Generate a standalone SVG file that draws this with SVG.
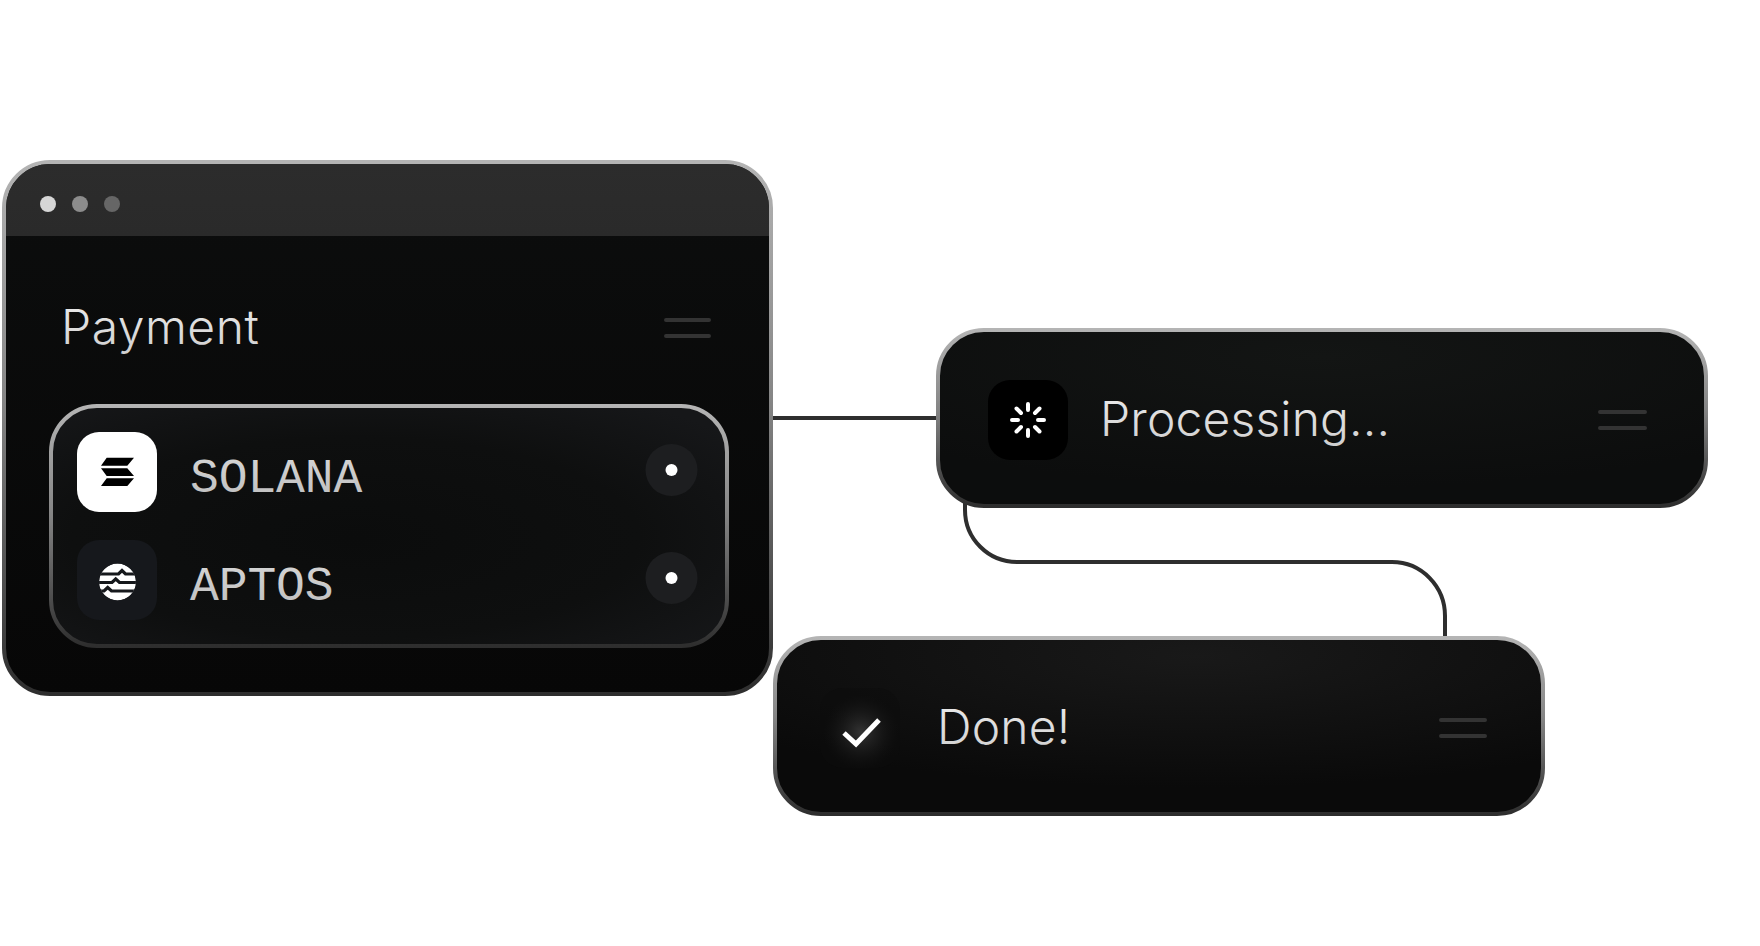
<svg xmlns="http://www.w3.org/2000/svg" width="1760" height="946" viewBox="0 0 1760 946">
<style>
.t{font-family:"Inter","Liberation Sans",sans-serif;font-size:48px;font-weight:350;letter-spacing:.15px;fill:url(#txt)}
.m{font-family:"Liberation Mono",monospace;font-size:48px;font-weight:400;letter-spacing:-.1px;fill:url(#txt);fill-opacity:.9}
.c{fill:none;stroke:#2e2e2e;stroke-width:4}
.b{stroke:url(#edge);stroke-width:4}
.h{stroke:#333;stroke-width:4;stroke-linecap:round}
.s{stroke:#fff;stroke-width:4;stroke-linecap:round}
</style>
<defs>
<linearGradient id="edge" x1="0" y1="0" x2="0" y2="1"><stop offset="0" stop-color="#b4b4b4"/><stop offset=".45" stop-color="#858585"/><stop offset="1" stop-color="#2e2e2e"/></linearGradient>
<linearGradient id="txt" x1="0" y1="0" x2="0" y2="1"><stop offset="0" stop-color="#ececec"/><stop offset="1" stop-color="#cfcfcf"/></linearGradient>
<linearGradient id="head" x1="0" y1="0" x2="0" y2="1"><stop offset="0" stop-color="#2c2c2c"/><stop offset="1" stop-color="#2a2a2a"/></linearGradient>
<linearGradient id="body" x1="0" y1="0" x2="0" y2="1"><stop offset="0" stop-color="#0c0d0d"/><stop offset="1" stop-color="#070707"/></linearGradient>
<radialGradient id="row" cx=".45" cy=".55" r=".7"><stop offset="0" stop-color="#0b0c0c"/><stop offset=".6" stop-color="#0e0f0f"/><stop offset="1" stop-color="#161719"/></radialGradient>
<radialGradient id="pill1" cx=".5" cy=".15" r=".75"><stop offset="0" stop-color="#131514"/><stop offset="1" stop-color="#0c0d0d"/></radialGradient>
<radialGradient id="pill2" cx=".55" cy=".1" r=".75"><stop offset="0" stop-color="#191919"/><stop offset="1" stop-color="#0a0a0a"/></radialGradient>
<radialGradient id="glow"><stop offset="0" stop-color="#343434"/><stop offset="1" stop-color="#141414" stop-opacity="0"/></radialGradient>
<clipPath id="cardClip"><rect x="6" y="164" width="763" height="528" rx="44"/></clipPath>
<clipPath id="apt"><circle cx="117.500" cy="582" r="18.500"/></clipPath>
</defs>
<rect width="1760" height="946" fill="#fff"/>
<g id="connectors">
<path class="c" d="M773 418H940"/>
<path class="c" d="M965 500V510A52 52 0 0 0 1017 562H1392A53 54 0 0 1 1445 616V640"/>
</g>
<g id="payment">
<rect class="b" x="4" y="162" width="767" height="532" rx="46" fill="url(#body)"/>
<rect x="6" y="164" width="763" height="72" fill="url(#head)" clip-path="url(#cardClip)"/>
<circle cx="48" cy="204" r="8" fill="#d6d6d6"/><circle cx="80" cy="204" r="8" fill="#8c8c8c"/><circle cx="112" cy="204" r="8" fill="#666"/>
<text class="t" x="61" y="344" style="letter-spacing:.5px">Payment</text>
<path class="h" d="M666 320H709M666 336H709"/>
</g>
<g id="options">
<rect class="b" x="51" y="406" width="676" height="240" rx="46" fill="url(#row)"/>
</g>
<g id="solana">
<rect x="77" y="432" width="80" height="80" rx="22" fill="#fff"/>
<path fill="#000" d="M106.700 457.700H134L127.300 465.700H101ZM101 468.300H127.300L134 476H106.700ZM106.700 478.300H134L127.300 486H101Z"/>
<text class="m" x="190" y="492">SOLANA</text>
<circle cx="671.500" cy="470" r="26" fill="#1d1e20"/><circle cx="671.500" cy="470" r="6" fill="#fff"/>
</g>
<g id="aptos">
<rect x="77" y="540" width="80" height="80" rx="22" fill="#16181c"/>
<g clip-path="url(#apt)"><circle cx="117.500" cy="582" r="18.500" fill="#fff"/>
<path fill="none" stroke="#16181c" stroke-width="3.200" d="M96 574H118.500L122 570.500L125.500 574H140M96 582.500H112L115.700 579L119.500 582.500H140M96 591H104L107.700 587.500L111.500 591H140"/></g>
<text class="m" x="190" y="600">APTOS</text>
<circle cx="671.500" cy="578" r="26" fill="#1d1e20"/><circle cx="671.500" cy="578" r="6" fill="#fff"/>
</g>
<g id="processing">
<rect class="b" x="938" y="330" width="768" height="176" rx="46" fill="url(#pill1)"/>
<rect x="988" y="380" width="80" height="80" rx="22" fill="#000"/>
<path class="s" d="M1028 404V410M1028 430V436M1012 420H1018M1038 420H1044M1016.500 408.500L1021 413M1035 427L1039.500 431.500M1039.500 408.500L1035 413M1021 427L1016.500 431.500"/>
<text class="t" x="1100" y="436">Processing...</text>
<path class="h" d="M1600 412H1645M1600 428H1645"/>
</g>
<g id="done">
<rect class="b" x="775" y="638" width="768" height="176" rx="46" fill="url(#pill2)"/>
<rect x="820" y="688" width="80" height="80" rx="22" fill="#0c0c0c" fill-opacity=".5"/>
<circle cx="861" cy="732" r="38" fill="url(#glow)"/>
<path d="M844 733L856 744L879 720" fill="none" stroke="#fff" stroke-width="5"/>
<text class="t" x="937" y="744">Done!</text>
<path class="h" d="M1441 720H1485M1441 736H1485"/>
</g>
</svg>
